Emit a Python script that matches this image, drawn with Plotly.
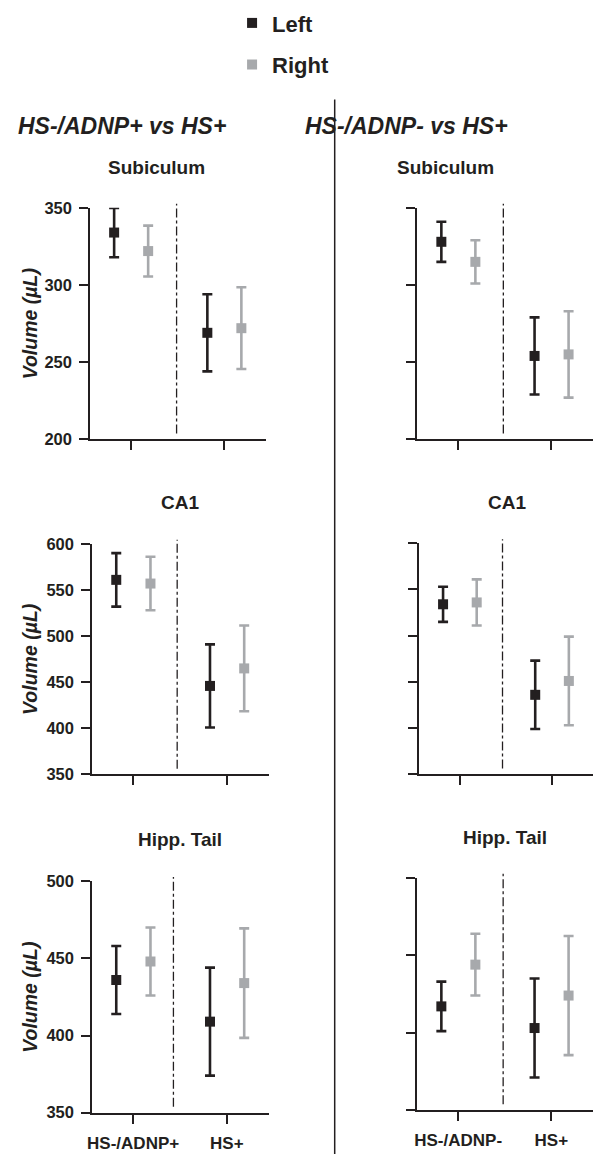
import plotly.graph_objects as go

# ---------------- data ----------------
regions = ["Subiculum", "CA1", "Hipp. Tail"]
panel_titles = ["HS-/ADNP+ vs HS+", "HS-/ADNP- vs HS+"]
categories_adnp_pos = ["HS-/ADNP+", "HS+"]
categories_adnp_neg = ["HS-/ADNP-", "HS+"]
series_names = ["Left", "Right"]

y_ranges = [[200, 350], [350, 600], [350, 500]]
y_tick_step = 50
y_label = "Volume (µL)"

# HS-/ADNP+ vs HS+ : means and error half-widths per region
pos_left_mean = [[334, 269], [561, 446], [436, 409]]
pos_left_err = [[16, 25], [29, 45], [22, 35]]
pos_right_mean = [[322, 272], [557, 465], [448, 434]]
pos_right_err = [[16.5, 26.5], [29, 46.5], [22, 35.5]]

# HS-/ADNP- vs HS+
neg_left_mean = [[328, 254], [534, 436], [417, 403]]
neg_left_err = [[13, 25], [19, 37], [16, 32]]
neg_right_mean = [[315, 255], [536, 451], [444, 424]]
neg_right_err = [[14, 28], [25, 48], [20, 38.5]]

# ---------------- style ----------------
W, H = 593, 1163
DARK = "#231f20"
GRAY = "#a7a9ac"
FONT = "Liberation Sans, Arial, Helvetica, sans-serif"
OFFSETS = [-0.18, 0.185]   # group offsets of Left / Right series
X_RANGE = [-0.436, 1.447]


def fx(p):
    return p / W


def fy(p):
    return 1 - p / H


# pixel boxes for each panel: (x0, x1, ytop, ybottom, dash_x, title_x, title_y)
boxes = {
    (0, 0): (86, 263, 202, 437, 0.49, 153, 165),
    (1, 0): (88, 266, 543.3, 777.5, 0.47, 176, 505),
    (2, 0): (88, 266, 886, 1121, 0.43, 176, 848),
    (0, 1): (416, 593, 202, 437, 0.485, 444, 165),
    (1, 1): (418, 593, 542.7, 777.3, 0.465, 506, 505),
    (2, 1): (416, 593, 882.7, 1118.3, 0.483, 504, 846),
}
TEXT_SHIFT = 4  # annotations box centre sits a bit below cap centre

fig = go.Figure()
layout = dict(
    width=W, height=H, margin=dict(l=0, r=0, t=0, b=0),
    plot_bgcolor="white", paper_bgcolor="white",
    font=dict(family=FONT, color=DARK),
    showlegend=True,
)
annotations = []
shapes = []

data_sets = {
    0: (categories_adnp_pos, [(pos_left_mean, pos_left_err), (pos_right_mean, pos_right_err)]),
    1: (categories_adnp_neg, [(neg_left_mean, neg_left_err), (neg_right_mean, neg_right_err)]),
}
colors = [DARK, GRAY]

idx = 0
for col in range(2):
    cats, series = data_sets[col]
    for row in range(3):
        idx += 1
        ax = "" if idx == 1 else str(idx)
        x0, x1, yt, yb, dash_x, tx, ty = boxes[(row, col)]
        for s, (means, errs) in enumerate(series):
            xs = [i + OFFSETS[s] for i in range(len(cats))]
            fig.add_trace(go.Scatter(
                x=xs, y=means[row],
                mode="markers",
                name=series_names[s],
                legendgroup=series_names[s],
                showlegend=(idx == 1),
                marker=dict(symbol="square", size=10, color=colors[s]),
                error_y=dict(type="data", array=errs[row], visible=True,
                             color=colors[s], thickness=2.6, width=5),
                xaxis="x" + ax, yaxis="y" + ax,
                cliponaxis=False,
            ))
        layout["xaxis" + ax] = dict(
            domain=[fx(x0), min(1.0, fx(x1))],
            range=X_RANGE, anchor="y" + ax,
            tickvals=list(range(len(cats))),
            ticktext=cats if row == 2 else ["" for _ in cats],
            showticklabels=(row == 2),
            showline=True, linecolor=DARK, linewidth=2,
            ticks="outside", ticklen=9, tickwidth=2, tickcolor=DARK,
            showgrid=False, zeroline=False,
            tickfont=dict(size=17, family=FONT, color=DARK, weight="bold"),
            ticklabelstandoff=5,
        )
        yr = y_ranges[row]
        layout["yaxis" + ax] = dict(
            domain=[fy(yb), fy(yt)],
            range=yr, anchor="x" + ax,
            tick0=yr[0], dtick=y_tick_step,
            showticklabels=(col == 0),
            showline=True, linecolor=DARK, linewidth=2,
            ticks="outside", ticklen=9, tickwidth=2, tickcolor=DARK,
            showgrid=False, zeroline=False,
            tickfont=dict(size=16.5, family=FONT, color=DARK, weight="bold"),
            ticklabelstandoff=4,
        )
        # dash-dot separator
        shapes.append(dict(
            type="line", xref="x" + ax, yref="y" + ax + " domain",
            x0=dash_x, x1=dash_x, y0=0.025, y1=1.018,
            line=dict(color=DARK, width=1.3, dash="dashdot"),
        ))
        # region title
        annotations.append(dict(
            text="<b>%s</b>" % regions[row], x=fx(tx), y=fy(ty - TEXT_SHIFT),
            xref="paper", yref="paper", showarrow=False,
            xanchor="center", yanchor="middle",
            font=dict(size=19, family=FONT, color=DARK),
        ))
        if col == 0:
            annotations.append(dict(
                text="<b><i>%s</i></b>" % y_label, x=fx(25), y=fy((yt + yb) / 2),
                xref="paper", yref="paper", showarrow=False, textangle=-90,
                xanchor="center", yanchor="middle",
                font=dict(size=19.5, family=FONT, color=DARK),
            ))

# panel titles
for col, cx in enumerate([118, 405]):
    annotations.append(dict(
        text="<b><i>%s</i></b>" % panel_titles[col], x=fx(cx), y=fy(123 - TEXT_SHIFT),
        xref="paper", yref="paper", showarrow=False,
        xanchor="center", yanchor="middle",
        font=dict(size=23, family=FONT, color=DARK),
    ))

# vertical divider between panels
shapes.append(dict(
    type="line", xref="paper", yref="paper",
    x0=fx(332.5), x1=fx(332.5), y0=fy(92), y1=0,
    line=dict(color=DARK, width=1.5),
))

layout["annotations"] = annotations
layout["shapes"] = shapes
layout["legend"] = dict(
    x=fx(229), y=fy(-7), xanchor="left", yanchor="top",
    font=dict(size=22, family=FONT, color=DARK, weight="bold"),
    tracegroupgap=10, bgcolor="rgba(0,0,0,0)",
    itemclick=False, itemdoubleclick=False,
)
fig.update_layout(**layout)

fig.write_html(
    "out.html",
    config={"displayModeBar": False},
    post_script="document.body.style.margin='0';document.body.style.padding='0';"
                "document.body.style.overflow='hidden';",
)
